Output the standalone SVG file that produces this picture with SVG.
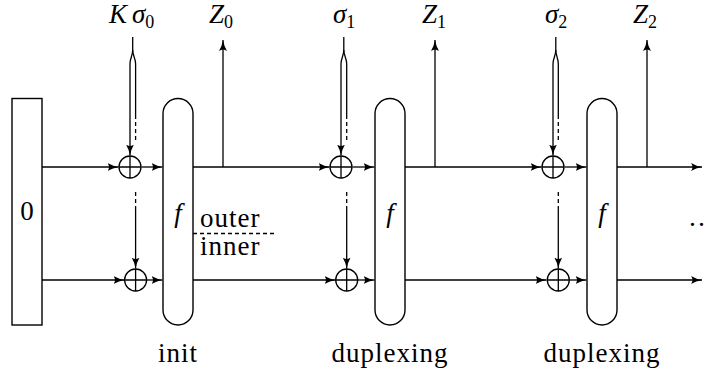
<svg xmlns="http://www.w3.org/2000/svg" width="708" height="376" viewBox="0 0 708 376">
<style>
.ln{fill:none;stroke:#000;stroke-width:1.3}
.ar{marker-end:url(#ah)}
.dsh{stroke-dasharray:4 3}
.node{fill:#fff;stroke:#000;stroke-width:1.4}
.x{fill:none;stroke:#000;stroke-width:1.3}
text{font-family:"Liberation Serif","DejaVu Serif",serif;font-size:27px;fill:#000}
.w{letter-spacing:1px}
.it{font-style:italic}
.sub{font-size:18px;font-style:normal}
</style>
<defs>
<marker id="ah" markerUnits="userSpaceOnUse" markerWidth="12" markerHeight="10" refX="11" refY="4" orient="auto">
<path d="M0,0 Q5,3 11,4 Q5,5 0,8 Q3,4 0,0 z" fill="#000"/>
</marker>
</defs>
<g id="connectors">
<!-- stage 1 -->
<path class="ln ar" d="M42,167 H118.5"/>
<path class="ln ar" d="M141.5,167 H162.5"/>
<path class="ln ar" d="M42,280 H124.5"/>
<path class="ln ar" d="M147,280 H162.5"/>
<path class="ln ar" d="M132.7,37 V50 C132.7,56 130,58 130,64 V155.5"/>
<path class="ln" d="M132.7,50 C132.7,56 135.6,58 135.6,64 V115"/>
<path class="ln dsh" d="M135.6,115 V140"/>
<path class="ln dsh" d="M135.6,192 V210"/>
<path class="ln ar" d="M135.6,210 V268.5"/>
<path class="ln ar" d="M223,167 V40"/>
<path class="ln ar" d="M193,167 H329.5"/>
<path class="ln ar" d="M193,280 H335.5"/>
<!-- stage 2 -->
<path class="ln ar" d="M352.5,167 H374.5"/>
<path class="ln ar" d="M358,280 H374.5"/>
<path class="ln ar" d="M343.8,37 V50 C343.8,56 341,58 341,64 V155.5"/>
<path class="ln" d="M343.8,50 C343.8,56 346.7,58 346.7,64 V115"/>
<path class="ln dsh" d="M346.7,115 V140"/>
<path class="ln dsh" d="M346.7,192 V210"/>
<path class="ln ar" d="M346.7,210 V268.5"/>
<path class="ln ar" d="M435,167 V40"/>
<path class="ln ar" d="M405,167 H541.5"/>
<path class="ln ar" d="M405,280 H546.5"/>
<!-- stage 3 -->
<path class="ln ar" d="M564.5,167 H586.5"/>
<path class="ln ar" d="M569.5,280 H586.5"/>
<path class="ln ar" d="M555.8,37 V50 C555.8,56 553,58 553,64 V155.5"/>
<path class="ln" d="M555.8,50 C555.8,56 558.3,58 558.3,64 V115"/>
<path class="ln dsh" d="M558.3,115 V140"/>
<path class="ln dsh" d="M558.3,192 V210"/>
<path class="ln ar" d="M558.3,210 V268.5"/>
<path class="ln ar" d="M647,167 V40"/>
<path class="ln ar" d="M617,167 H702"/>
<path class="ln ar" d="M617,280 H702"/>
<!-- outer/inner separator -->
<path class="ln dsh" d="M193,233.5 H277" stroke-width="1"/>
</g>
<g id="state0">
<rect class="node" x="12" y="98.5" width="30" height="226.5"/>
<text x="27" y="220" text-anchor="middle">0</text>
</g>
<g id="xor1u"><circle class="x" cx="130" cy="167" r="11"/><path class="x" d="M119,167 H141 M130,156 V178"/></g>
<g id="xor1l"><circle class="x" cx="135.6" cy="280" r="11"/><path class="x" d="M124.6,280 H146.6 M135.6,269 V291"/></g>
<g id="xor2u"><circle class="x" cx="341" cy="167" r="11"/><path class="x" d="M330,167 H352 M341,156 V178"/></g>
<g id="xor2l"><circle class="x" cx="346.7" cy="280" r="11"/><path class="x" d="M335.7,280 H357.7 M346.7,269 V291"/></g>
<g id="xor3u"><circle class="x" cx="553" cy="167" r="11"/><path class="x" d="M542,167 H564 M553,156 V178"/></g>
<g id="xor3l"><circle class="x" cx="558.3" cy="280" r="11"/><path class="x" d="M547.3,280 H569.3 M558.3,269 V291"/></g>
<g id="f1">
<rect class="node" x="163" y="98.5" width="30" height="226.5" rx="15" ry="15"/>
<text class="it" x="178" y="222" text-anchor="middle">f</text>
</g>
<g id="f2">
<rect class="node" x="375" y="98.5" width="30" height="226.5" rx="15" ry="15"/>
<text class="it" x="390" y="222" text-anchor="middle">f</text>
</g>
<g id="f3">
<rect class="node" x="587" y="98.5" width="30" height="226.5" rx="15" ry="15"/>
<text class="it" x="602" y="222" text-anchor="middle">f</text>
</g>
<g id="labels">
<text x="109" y="23"><tspan class="it">K</tspan><tspan class="it" dx="5">σ</tspan><tspan class="sub" dy="5">0</tspan></text>
<text x="209" y="23"><tspan class="it">Z</tspan><tspan class="sub" dy="5">0</tspan></text>
<text x="333" y="23"><tspan class="it">σ</tspan><tspan class="sub" dy="5">1</tspan></text>
<text x="422" y="23"><tspan class="it">Z</tspan><tspan class="sub" dy="5">1</tspan></text>
<text x="545" y="23"><tspan class="it">σ</tspan><tspan class="sub" dy="5">2</tspan></text>
<text x="633" y="23"><tspan class="it">Z</tspan><tspan class="sub" dy="5">2</tspan></text>
<text class="w" x="200" y="227">outer</text>
<text class="w" x="200" y="255">inner</text>
<text class="w" x="178" y="362" text-anchor="middle">init</text>
<text class="w" x="390" y="362" text-anchor="middle">duplexing</text>
<text class="w" x="602" y="362" text-anchor="middle">duplexing</text>
<text x="688" y="226">…</text>
</g>
</svg>
